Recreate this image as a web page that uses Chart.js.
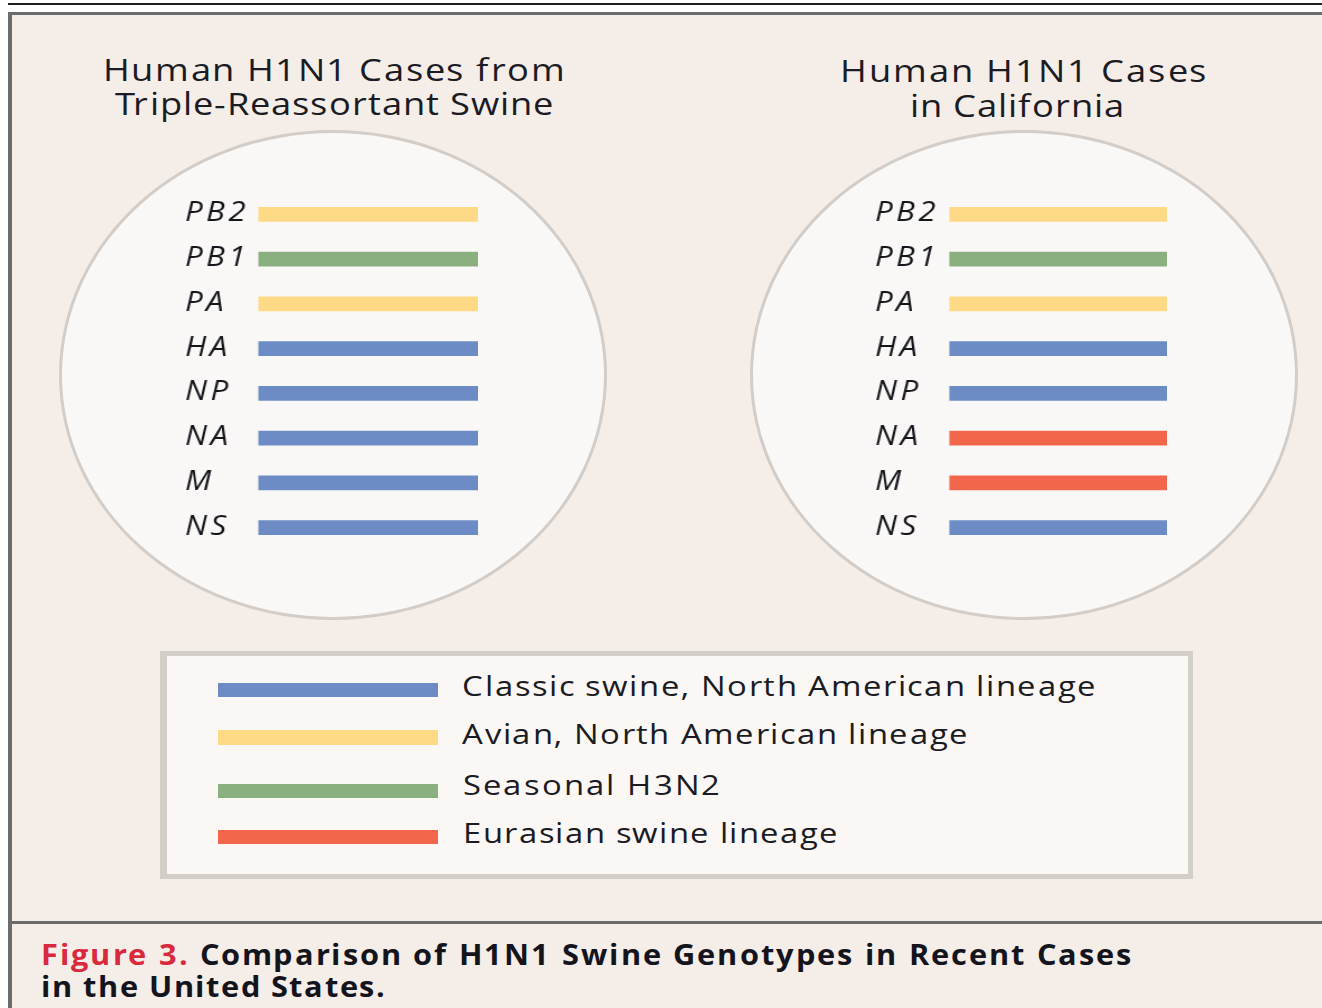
<!DOCTYPE html>
<html>
<head>
<meta charset="utf-8">
<title>Comparison of H1N1 Swine Genotypes</title>
<script src="https://cdn.jsdelivr.net/npm/chart.js@4.4.1/dist/chart.umd.min.js"></script>
<style>
  @font-face { font-family: 'FigSans'; font-weight: 400; font-style: normal;
               src: local('Open Sans'), local('OpenSans-Regular'), local('Open Sans Regular');
               ascent-override: 84%; descent-override: 16%; line-gap-override: 0%; }
  @font-face { font-family: 'FigSans'; font-weight: 700; font-style: normal;
               src: local('Open Sans Bold'), local('OpenSans-Bold');
               ascent-override: 84%; descent-override: 16%; line-gap-override: 0%; }
  html, body { margin:0; padding:0; }
  body { width:1322px; height:1008px; overflow:hidden; position:relative; background:#ffffff;
         font-family: FigSans, "Open Sans", Lato, sans-serif; color:#1b1b24; }
  .abs { position:absolute; }
  #topRule { left:8px; top:3px; width:1314px; height:2px; background:#202020; }
  #frame { left:8px; top:12px; width:1314px; height:996px; background:#f4ede8;
           border-top:3px solid #6c6c6c; border-left:4px solid #6c6c6c; box-sizing:border-box; }
  #divider { left:12px; top:921px; width:1310px; height:3px; background:#6b6b6b; }
  .ellipse { background:#faf8f6; border:3px solid #d3ccc7; border-radius:50%; box-sizing:border-box; }
  #legendBox { left:160px; top:651px; width:1033px; height:228px; background:#faf7f4;
               border:5px solid #d4cec9; border-left-width:7px; box-sizing:border-box; }
  .txt { position:absolute; left:0; top:0; white-space:nowrap; transform-origin:0 0; }
  .ln { white-space:nowrap; }
  .title { font-size:31px; font-weight:400; }
  .legendText { font-size:28px; font-weight:400; }
  .caption { font-size:29px; font-weight:700; color:#14141c; }
  .chartWrap { position:absolute; transform-origin:0 0; }
  .bl { display:inline-block; width:0; height:0; }
</style>
</head>
<body>
<div id="topRule" class="abs"></div>
<div id="frame" class="abs"></div>
<div id="divider" class="abs"></div>
<div id="ellipseL" class="abs ellipse" style="left:59px;top:130px;width:548px;height:490px;"></div>
<div id="ellipseR" class="abs ellipse" style="left:750px;top:130px;width:548px;height:490px;"></div>
<div id="legendBox" class="abs"></div>
<div id="wrapL" class="chartWrap"><canvas id="chartL"></canvas></div>
<div id="wrapR" class="chartWrap"><canvas id="chartR"></canvas></div>

<script>
// ---------------- data ----------------
const segments = ['PB2', 'PB1', 'PA', 'HA', 'NP', 'NA', 'M', 'NS'];
const lineageKeys = ['classic', 'avian', 'seasonal', 'eurasian'];
const lineageNames = ['Classic swine, North American lineage', 'Avian, North American lineage',
                      'Seasonal H3N2', 'Eurasian swine lineage'];
const lineageColors = ['#6d8cc6', '#fed986', '#89b07e', '#f2674b'];
const tripleReassortantGenotype = ['avian', 'seasonal', 'avian', 'classic', 'classic', 'classic', 'classic', 'classic'];
const californiaGenotype = ['avian', 'seasonal', 'avian', 'classic', 'classic', 'eurasian', 'eurasian', 'classic'];
const segmentSpan = [1, 1, 1, 1, 1, 1, 1, 1];   // every segment is drawn as a full-length bar
const panelTitles = [['Human H1N1 Cases from', 'Triple-Reassortant Swine'],
                     ['Human H1N1 Cases', 'in California']];
const captionLabel = 'Figure 3.';
const captionLines = ['Comparison of H1N1 Swine Genotypes in Recent Cases', 'in the United States.'];

// ---------------- layout ----------------
const S = 1.115;        // horizontal stretch of the original figure
const TEXT_S = 1.17;    // stretch applied to the wide display type
const titleLayout = [
  [{x:103, w:462, b:81}, {x:115, w:438, b:115}],
  [{x:840, w:367, b:82}, {x:910, w:214, b:117}]
];
const legendTextLayout = [{x:462, w:634, b:696}, {x:462, w:506, b:744}, {x:463, w:257, b:795}, {x:463, w:375, b:843}];
const legendSwatchLayout = [{t:683, h:14}, {t:730, h:15}, {t:784, h:14}, {t:830, h:14}];
const captionLayout = [{x:41, w:1090, b:965}, {x:41, w:343, b:997}];

function makeBlock(cls, htmlLines, specs, stretch) {
  const el = document.createElement('div');
  el.className = 'txt ' + cls;
  const lh = specs.length > 1 ? (specs[1].b - specs[0].b) : 40;
  el.style.lineHeight = lh + 'px';
  const x0 = Math.min(...specs.map(s => s.x));
  el.innerHTML = htmlLines.map((h, i) =>
    '<div class="ln"><span class="lt">' + h + '</span>' + (i === 0 ? '<span class="bl"></span>' : '') + '</div>').join('');
  document.body.appendChild(el);
  el.querySelectorAll('.lt').forEach((sp, i) => {
    const n = sp.textContent.length;
    sp.style.letterSpacing = '0px';
    const w0 = sp.getBoundingClientRect().width;
    const ls = (specs[i].w / stretch - w0) / Math.max(1, n - 1);
    sp.style.letterSpacing = ls + 'px';
    sp.parentNode.style.paddingLeft = ((specs[i].x - x0) / stretch) + 'px';
  });
  const marker = el.querySelector('.bl');
  el.style.left = x0 + 'px';
  el.style.top = (specs[0].b - marker.offsetTop) + 'px';
  el.style.transform = 'scaleX(' + stretch + ')';
  return el;
}

function build() {
  panelTitles.forEach((lines, p) => makeBlock('title', lines, titleLayout[p], TEXT_S));
  lineageNames.forEach((name, i) => {
    makeBlock('legendText', [name], [legendTextLayout[i]], TEXT_S);
    const sw = document.createElement('div');
    sw.className = 'abs';
    sw.style.left = '218px'; sw.style.width = '220px';
    sw.style.top = legendSwatchLayout[i].t + 'px'; sw.style.height = legendSwatchLayout[i].h + 'px';
    sw.style.background = lineageColors[i];
    document.body.appendChild(sw);
  });
  makeBlock('caption',
    ['<span style="color:#d8293d">' + captionLabel + '</span> ' + captionLines[0], captionLines[1]],
    captionLayout, 1.06);

  const spacing = { id: 'labelSpacing', beforeDraw(chart) { chart.ctx.letterSpacing = '3px'; } };

  function makeChart(canvasId, wrapId, genotype, left, labelWidth, width) {
    const wrap = document.getElementById(wrapId);
    wrap.style.left = left + 'px';
    wrap.style.top = '192px';
    wrap.style.width = (width / S) + 'px';
    wrap.style.height = '358px';
    wrap.style.transform = 'scaleX(' + S + ')';
    return new Chart(document.getElementById(canvasId), {
      type: 'bar',
      data: {
        labels: segments,
        datasets: [{
          data: segmentSpan,
          backgroundColor: genotype.map(g => lineageColors[lineageKeys.indexOf(g)]),
          borderWidth: 0,
          barThickness: 14
        }]
      },
      options: {
        indexAxis: 'y',
        responsive: true,
        maintainAspectRatio: false,
        animation: false,
        events: [],
        layout: { padding: 0 },
        plugins: { legend: { display: false }, tooltip: { enabled: false }, title: { display: false } },
        scales: {
          x: { display: false, min: 0, max: 1 },
          y: {
            grid: { display: false },
            border: { display: false },
            ticks: {
              crossAlign: 'far', padding: 0, labelOffset: -1,
              color: '#15151c',
              font: { family: 'Open Sans', size: 28, style: 'italic', weight: '500' }
            },
            afterFit(scale) {
              scale.width = labelWidth / S;
              scale.paddingTop = 0;
              scale.paddingBottom = 0;
            }
          }
        }
      },
      plugins: [spacing]
    });
  }
  makeChart('chartL', 'wrapL', tripleReassortantGenotype, 185, 73, 293);
  makeChart('chartR', 'wrapR', californiaGenotype, 875, 74, 292);
}
if (document.fonts && document.fonts.ready) {
  document.fonts.load('31px FigSans').then(() => document.fonts.load('bold 29px FigSans')).then(build, build);
} else {
  build();
}
</script>
</body>
</html>
